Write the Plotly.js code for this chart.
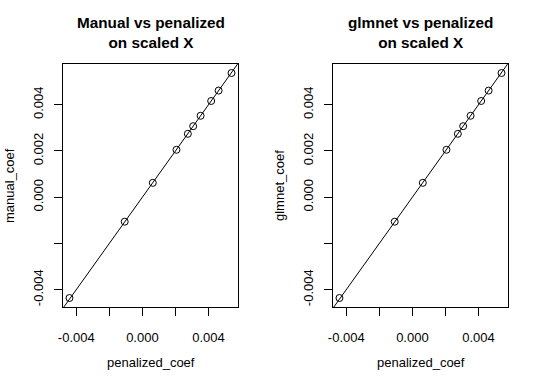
<!DOCTYPE html>
<html>
<head>
<meta charset="utf-8">
<script src="https://cdn.plot.ly/plotly-3.0.1.min.js"></script>
<style>
html,body{margin:0;padding:0;background:#fff;}
#chart{width:540px;height:386px;}
</style>
</head>
<body>
<div id="chart"></div>
<script>
// Data
const penalizedCoef = [-0.00441, -0.00107, 0.00063, 0.00206, 0.00275, 0.00307, 0.00352, 0.00416, 0.00461, 0.00539];
const manualCoef    = [-0.00436, -0.00106, 0.00062, 0.00205, 0.00274, 0.00307, 0.00352, 0.00416, 0.00461, 0.00537];
const glmnetCoef    = [-0.00436, -0.00106, 0.00062, 0.00205, 0.00274, 0.00307, 0.00352, 0.00416, 0.00461, 0.00537];
const identityLine  = [-0.01, 0.01];
const tickValues    = [-0.004, -0.002, 0.000, 0.002, 0.004];
const xTickText     = ["-0.004", "", "0.000", "", "0.004"];
const yTickText     = ["-0.004", "", "0.000", "0.002", "0.004"];
const titles        = ["Manual vs penalized<br>on scaled X", "glmnet vs penalized<br>on scaled X"];
const xLabel        = "penalized_coef";
const yLabels       = ["manual_coef", "glmnet_coef"];

function rRange(v){ // R's default 4% axis extension
  const mn = Math.min(...v), mx = Math.max(...v), d = (mx - mn) * 0.04;
  return [mn - d, mx + d];
}

const W = 540, H = 386;
const FONT = "Liberation Sans, Arial, sans-serif";
const boxL = [63, 333], boxW = 175, boxT = 64, boxB = 307;

function axisCommon(){
  return {
    showgrid:false, zeroline:false, showline:true, mirror:true,
    linecolor:"#000", linewidth:1,
    ticks:"outside", ticklen:8, tickwidth:1, tickcolor:"#000",
    tickmode:"array", tickvals:tickValues,
    tickfont:{family:FONT, size:13, color:"#000"},
    fixedrange:true
  };
}

const traces = [];
const layout = {
  width:W, height:H,
  margin:{l:0,r:0,t:0,b:0},
  paper_bgcolor:"#fff", plot_bgcolor:"#fff",
  showlegend:false,
  annotations:[]
};

const ys = [manualCoef, glmnetCoef];
for (let i = 0; i < 2; i++){
  const xa = i === 0 ? "x" : "x2", ya = i === 0 ? "y" : "y2";
  traces.push({x:identityLine, y:identityLine, xaxis:xa, yaxis:ya, mode:"lines",
    line:{color:"#000", width:1}, hoverinfo:"skip"});
  traces.push({x:penalizedCoef, y:ys[i], xaxis:xa, yaxis:ya, mode:"markers",
    marker:{symbol:"circle-open", size:7, color:"#000", line:{width:1, color:"#000"}}});
  const xk = i === 0 ? "xaxis" : "xaxis2", yk = i === 0 ? "yaxis" : "yaxis2";
  layout[xk] = Object.assign(axisCommon(), {
    domain:[boxL[i]/W, (boxL[i]+boxW)/W], anchor:ya,
    range:rRange(penalizedCoef), ticktext:xTickText, ticklabelstandoff:10
  });
  layout[yk] = Object.assign(axisCommon(), {
    domain:[1-boxB/H, 1-boxT/H], anchor:xa,
    range:rRange(ys[i]), ticktext:yTickText, tickangle:-90, ticklabelstandoff:6
  });
  const cx = (boxL[i] + boxW/2) / W;
  layout.annotations.push({text:"<b>"+titles[i]+"</b>", xref:"paper", yref:"paper",
    x:cx, y:1-33/H, xanchor:"center", yanchor:"middle", showarrow:false,
    font:{family:FONT, size:15.3, color:"#000"}});
  layout.annotations.push({text:xLabel, xref:"paper", yref:"paper",
    x:cx, y:1-362/H, xanchor:"center", yanchor:"middle", showarrow:false,
    font:{family:FONT, size:13, color:"#000"}});
  layout.annotations.push({text:yLabels[i], xref:"paper", yref:"paper",
    x:(boxL[i]-53)/W, y:1-186/H, xanchor:"center", yanchor:"middle", showarrow:false,
    textangle:-90, font:{family:FONT, size:13, color:"#000"}});
}

Plotly.newPlot("chart", traces, layout, {staticPlot:true, displayModeBar:false});
</script>
</body>
</html>
